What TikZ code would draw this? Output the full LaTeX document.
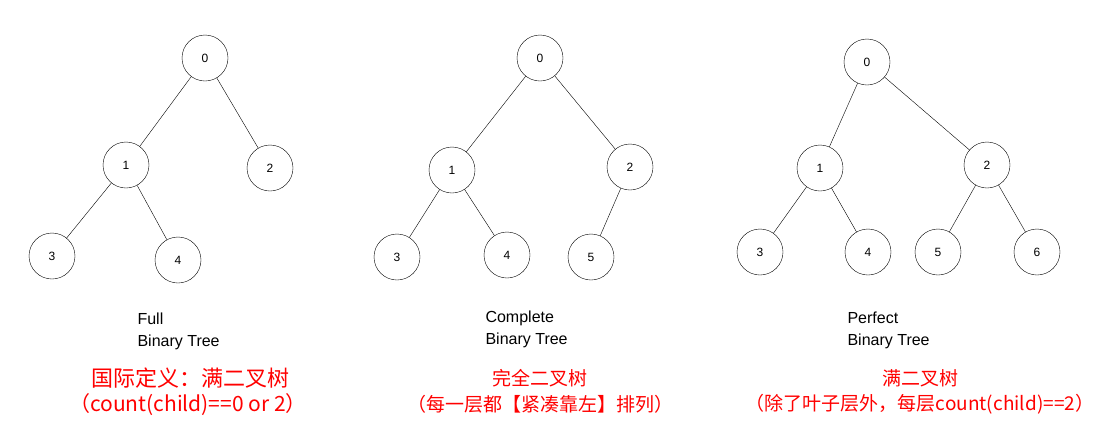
\documentclass[tikz,border=0pt]{standalone}
\usepackage{fontspec}
\setmainfont{Liberation Sans}
\newfontfamily\cjk{Noto Sans CJK SC}
\begin{document}
\begin{tikzpicture}[x=1pt,y=-1pt,
  tn/.style={draw,circle,minimum size=46pt,inner sep=0pt,font=\fontsize{12}{13}\selectfont},
  lab/.style={font=\fontsize{16}{22}\selectfont,align=left,anchor=west},
  red/.style={text=red,font=\cjk\fontsize{22}{24}\selectfont}]
\useasboundingbox (0,0) rectangle (1106,432);
% tree 1
\node[tn] (a0) at (205,58) {0};
\node[tn] (a1) at (126,165) {1};
\node[tn] (a2) at (270,168) {2};
\node[tn] (a3) at (52,256) {3};
\node[tn] (a4) at (178,260) {4};
\draw (a0)--(a1) (a0)--(a2) (a1)--(a3) (a1)--(a4);
\node[lab] (t1) at (134,331) {Full\\Binary Tree};
\node[red] (r1) at (190,378) {国际定义：满二叉树};
\node[red,font=\cjk\fontsize{21}{24}\selectfont] (r1b) at (188,405) {（count(child)==0 or 2）};
% tree 2
\node[tn] (b0) at (540,58) {0};
\node[tn] (b1) at (452,170) {1};
\node[tn] (b2) at (630,167) {2};
\node[tn] (b3) at (397,257) {3};
\node[tn] (b4) at (507,255) {4};
\node[tn] (b5) at (591,257) {5};
\draw (b0)--(b1) (b0)--(b2) (b1)--(b3) (b1)--(b4) (b2)--(b5);
\node[lab] (t2) at (482,329) {Complete\\Binary Tree};
\node[red,font=\cjk\fontsize{19}{22}\selectfont] (r2) at (540,378) {完全二叉树};
\node[red,font=\cjk\fontsize{19}{22}\selectfont] (r2b) at (540,404) {（每一层都【紧凑靠左】排列）};
% tree 3
\node[tn] (c0) at (867,62) {0};
\node[tn] (c1) at (820,168) {1};
\node[tn] (c2) at (987,165) {2};
\node[tn] (c3) at (760,252) {3};
\node[tn] (c4) at (868,252) {4};
\node[tn] (c5) at (938,252) {5};
\node[tn] (c6) at (1037,252) {6};
\draw (c0)--(c1) (c0)--(c2) (c1)--(c3) (c1)--(c4) (c2)--(c5) (c2)--(c6);
\node[lab] (t3) at (844,330) {Perfect\\Binary Tree};
\node[red,font=\cjk\fontsize{19}{22}\selectfont] (r3) at (920,378) {满二叉树};
\node[red,font=\cjk\fontsize{19}{22}\selectfont] (r3b) at (920,404) {（除了叶子层外，每层count(child)==2）};
\end{tikzpicture}
\end{document}
